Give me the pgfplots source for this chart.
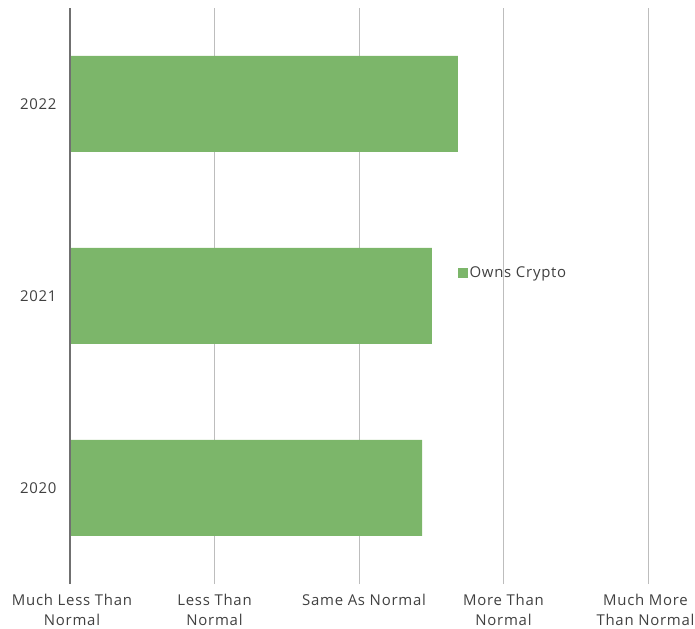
\documentclass[border=0pt]{standalone}
\usepackage{pgfplots}
\pgfplotsset{compat=1.18}
\usepackage{fontspec}
\setmainfont[LetterSpace=5]{Open Sans}
\definecolor{barg}{HTML}{7CB66A}
\definecolor{txt}{HTML}{404040}
\definecolor{gridc}{HTML}{BDBDBD}
\definecolor{axl}{HTML}{707070}
\begin{document}
\begin{tikzpicture}
\useasboundingbox (0,0) rectangle (695bp,629bp);
\begin{axis}[
  at={(70bp,45bp)}, anchor=south west,
  scale only axis, width=578bp, height=576bp,
  xbar, bar width=0.5,
  xmin=0, xmax=4, ymin=-0.5, ymax=2.5,
  xtick={0,1,2,3,4},
  xticklabels={{\hspace*{4bp}Much Less Than\\\hspace*{4bp}Normal},{Less Than\\Normal},{\hspace*{10bp}Same As Normal},{More Than\\Normal},{Much More\hspace*{5bp}\\Than Normal\hspace*{5bp}}},
  xticklabel style={align=center, font=\fontsize{15}{20}\selectfont, text=txt, anchor=north, yshift=-7bp},
  ytick={0,1,2}, yticklabels={2020,2021,2022},
  yticklabel style={font=\fontsize{15}{20}\selectfont, text=txt, xshift=-10bp},
  xmajorgrids, ymajorgrids=false, grid style={draw=gridc, line width=1bp},
  major tick length=0pt,
  axis x line=bottom, axis y line=left,
  axis line style={draw=none},
  legend style={at={(0.665,0.54)}, anchor=west, draw=none, fill=none, font=\fontsize{15}{20}\selectfont, text=txt},
  legend image code/.code={\fill[barg] (0bp,-5bp) rectangle (10bp,5bp);},
  clip=false,
]
\addplot[fill=barg, draw=none] coordinates {(2.436,0) (2.505,1) (2.685,2)};
\addlegendentry{Owns Crypto}
\draw[axl, line width=1.2bp] (axis cs:0,-0.5) -- (axis cs:0,2.5);
\end{axis}
\end{tikzpicture}
\end{document}
